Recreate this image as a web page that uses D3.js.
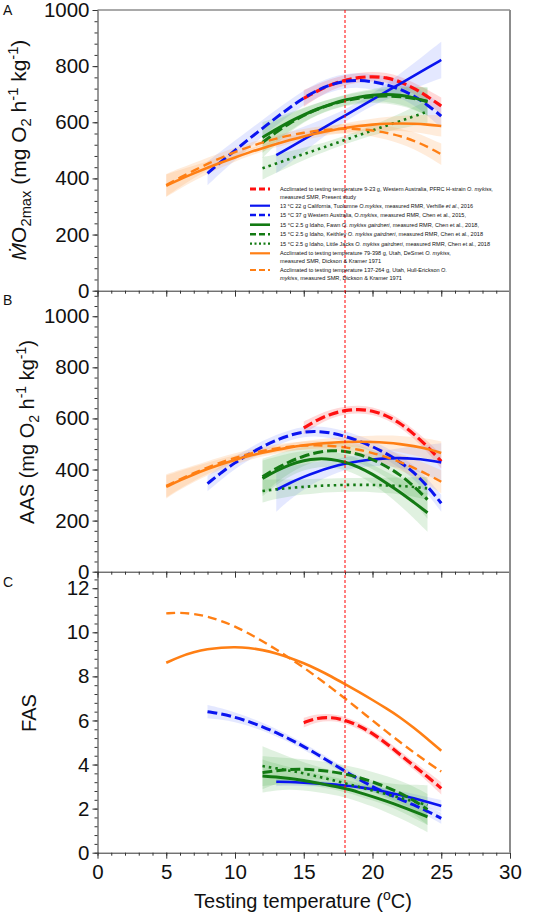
<!DOCTYPE html>
<html><head><meta charset="utf-8">
<script src="https://cdn.jsdelivr.net/npm/d3@7"></script>
<style>
body{margin:0;background:#fff}
svg{display:block}
text{font-family:"Liberation Sans",Arial,Helvetica,sans-serif;fill:#111}
</style>
</head><body>
<svg id="chart" width="534" height="916"></svg>
<script>
// ---------------- DATA ----------------
const tPresent  = [15,16,17,18,19,20,21,22,23,24,25];
const tVerhille = [13,14,15,16,17,18,19,20,21,22,23,24,25];
const tChen2015 = [8,9,10,11,12,13,14,15,16,17,18,19,20,21,22,23,24,25];
const tChen2018 = [12,13,14,15,16,17,18,19,20,21,22,23,24];
const tDickson  = [5,6,7,8,9,10,11,12,13,14,15,16,17,18,19,20,21,22,23,24,25];

// Panel A: MO2max (mg O2 h-1 kg-1), values and CI half-widths
const mmrPresent = [685,712,735,750,760,763,760,745,722,692,658];
const mmrPresentCI = [30,24,20,18,17,17,17,18,20,24,30];
const mmrVerhille = [483,511,539,568,596,624,652,681,709,737,765,794,822];
const mmrVerhilleCI = [65,55,45,36,28,22,20,22,28,36,45,55,65];
const mmrChen2015 = [418,460,500,540,578,617,653,687,715,735,747,750,745,735,718,695,662,622];
const mmrChen2015CI = [42,38,35,32,30,28,27,26,26,26,26,26,27,28,30,33,37,42];
const mmrFawn = [546,575,603,627,648,665,680,690,697,700,697,688,673];
const mmrFawnCI = [55,42,32,25,21,19,19,20,22,26,32,40,50];
const mmrKeithley = [528,565,598,625,647,664,677,686,692,694,692,685,675];
const mmrKeithleyCI = [55,42,32,25,21,19,19,20,22,26,32,40,50];
const mmrLittleJacks = [436,453,470,487,503,520,537,554,571,588,604,621,638];
const mmrLittleJacksCI = [40,33,27,22,18,16,15,16,18,22,27,33,40];
const mmrDeSmet = [374,397,418,438,457,475,492,508,523,537,550,561,571,580,587,592,595,596,595,592,587];
const mmrDeSmetCI = [40,33,27,22,18,15,13,12,12,12,13,14,15,17,19,21,24,27,30,34,38];
const mmrHull = [376,403,428,452,474,494,512,528,542,554,563,570,575,577,576,571,563,551,535,513,486];
const mmrHullCI = [40,33,27,22,18,15,13,12,12,12,13,14,15,17,19,21,24,27,30,34,38];

// Panel B: AAS
const aasPresent = [563,595,618,632,636,630,612,582,540,490,432];
const aasPresentCI = [25,20,17,15,15,15,15,16,18,22,28];
const aasVerhille = [320,348,372,392,409,423,433,440,444,445,443,437,428];
const aasVerhilleCI = [85,65,50,38,30,25,24,26,30,38,48,60,75];
const aasChen2015 = [345,388,427,460,490,515,535,548,550,544,530,512,490,463,430,390,335,268];
const aasChen2015CI = [30,27,25,23,22,21,20,20,20,20,20,21,22,23,25,27,30,33];
const aasFawn = [365,395,420,436,443,441,430,410,382,348,312,272,231];
const aasFawnCI = [70,55,45,38,33,31,31,33,37,43,52,62,75];
const aasKeithley = [372,405,432,453,468,475,472,460,440,413,380,335,282];
const aasKeithleyCI = [70,55,45,38,33,31,31,33,37,43,52,62,75];
const aasLittleJacks = [316,323,328,332,336,338,340,340,340,338,336,332,326];
const aasLittleJacksCI = [45,38,33,30,28,27,27,27,28,30,33,38,45];
const aasDeSmet = [332,358,381,402,421,438,453,466,477,487,495,501,505,508,509,508,505,500,492,481,465];
const aasDeSmetCI = [45,37,30,25,21,18,16,15,15,15,16,17,18,20,22,25,28,32,36,40,45];
const aasHull = [336,362,386,408,428,446,461,473,483,490,494,495,493,487,478,465,449,430,407,381,352];
const aasHullCI = [45,37,30,25,21,18,16,15,15,15,16,17,18,20,22,25,28,32,36,40,45];

// Panel C: FAS
const fasPresent = [5.9,6.12,6.15,6.02,5.77,5.42,4.97,4.45,3.95,3.45,2.92];
const fasPresentCI = [0.22,0.18,0.16,0.15,0.15,0.15,0.16,0.17,0.19,0.22,0.28];
const fasVerhille = [3.22,3.21,3.18,3.15,3.1,3.05,2.98,2.88,2.76,2.62,2.47,2.3,2.12];
const fasVerhilleCI = [0.2,0.17,0.15,0.13,0.12,0.12,0.12,0.13,0.15,0.17,0.2,0.23,0.27];
const fasChen2015 = [6.4,6.3,6.15,5.95,5.72,5.45,5.15,4.82,4.46,4.08,3.7,3.33,3.0,2.7,2.43,2.17,1.88,1.56];
const fasChen2015CI = [0.3,0.26,0.22,0.2,0.18,0.17,0.16,0.15,0.15,0.15,0.15,0.15,0.16,0.17,0.18,0.2,0.22,0.25];
const fasFawn = [3.48,3.44,3.37,3.28,3.16,3.04,2.92,2.74,2.55,2.34,2.12,1.88,1.63];
const fasFawnCI = [0.75,0.6,0.5,0.45,0.42,0.4,0.4,0.42,0.45,0.5,0.55,0.62,0.7];
const fasKeithley = [3.63,3.73,3.78,3.79,3.75,3.68,3.57,3.42,3.22,2.98,2.72,2.38,1.96];
const fasKeithleyCI = [0.75,0.6,0.5,0.45,0.42,0.4,0.4,0.42,0.45,0.5,0.55,0.62,0.7];
const fasLittleJacks = [3.93,3.83,3.72,3.6,3.46,3.31,3.15,2.99,2.82,2.66,2.49,2.33,2.16];
const fasLittleJacksCI = [0.9,0.75,0.6,0.5,0.45,0.42,0.4,0.42,0.45,0.5,0.6,0.75,0.9];
const fasDeSmet = [8.62,8.9,9.1,9.24,9.31,9.33,9.3,9.2,9.05,8.84,8.6,8.32,8.0,7.65,7.3,6.93,6.55,6.15,5.67,5.16,4.63];
const fasHull = [10.86,10.9,10.84,10.72,10.52,10.27,9.95,9.6,9.22,8.82,8.4,7.95,7.48,7.0,6.5,6.0,5.5,5.02,4.55,4.1,3.68];

const xTicks = [0,5,10,15,20,25,30];
const yTicksA = [0,200,400,600,800,1000];
const yTicksB = [0,200,400,600,800,1000];
const yTicksC = [0,2,4,6,8,10,12];
const refTemp = 18;

// legend entries (text pieces: [text, italic])
const legendEntries = [
  [[["Acclimated to testing temperature 9-23 g, Western Australia, PFRC H-strain ",0],["O. mykiss,",1]],[["measured SMR, Present study",0]]],
  [[["13 °C 22 g California, Tuolumne ",0],["O.mykiss",1],[", measured RMR, Verhille ",0],["et al",1],["., 2016",0]]],
  [[["15 °C 37 g Western Australia, ",0],["O.mykiss",1],[", measured RMR, Chen et al., 2015,",0]]],
  [[["15 °C 2.5 g Idaho, Fawn ",0],["O. mykiss gairdneri",1],[", measured RMR, Chen et al., 2018,",0]]],
  [[["15 °C 2.5 g Idaho, Keithley ",0],["O. mykiss gairdneri",1],[", measured RMR, Chen et al., 2018",0]]],
  [[["15 °C 2.5 g Idaho, Little Jacks ",0],["O. mykiss gairdneri",1],[", measured RMR, Chen et al., 2018",0]]],
  [[[" Acclimated to testing temperature 79-398 g, Utah, DeSmet ",0],["O. mykiss,",1]],[["measured SMR, Dickson & Kramer 1971",0]]],
  [[["Acclimated to testing temperature 137-264 g, Utah, Hull-Erickson ",0],["O.",1]],[["mykiss",1],[", measured SMR, Dickson & Kramer 1971",0]]]
];

// ---------------- STYLES / LAYOUT ----------------
const RED="#ff1010", BLUE="#0a14f0", GREEN="#137a13", ORANGE="#ff7f14";
const BAND = {red:"rgba(255,80,80,0.22)", blue:"rgba(90,110,255,0.16)", green:"rgba(60,170,60,0.16)", orange:"rgba(255,170,90,0.22)"};

const series = [
  {t:tPresent,  v:[mmrPresent,aasPresent,fasPresent], ci:[mmrPresentCI,aasPresentCI,fasPresentCI], color:RED, band:BAND.red, dash:"10,4", w:3.2},
  {t:tVerhille, v:[mmrVerhille,aasVerhille,fasVerhille], ci:[mmrVerhilleCI,aasVerhilleCI,fasVerhilleCI], color:BLUE, band:BAND.blue, dash:null, w:2.6},
  {t:tChen2015, v:[mmrChen2015,aasChen2015,fasChen2015], ci:[mmrChen2015CI,aasChen2015CI,fasChen2015CI], color:BLUE, band:BAND.blue, dash:"10,4", w:3},
  {t:tChen2018, v:[mmrFawn,aasFawn,fasFawn], ci:[mmrFawnCI,aasFawnCI,fasFawnCI], color:GREEN, band:BAND.green, dash:null, w:3},
  {t:tChen2018, v:[mmrKeithley,aasKeithley,fasKeithley], ci:[mmrKeithleyCI,aasKeithleyCI,fasKeithleyCI], color:GREEN, band:BAND.green, dash:"10,4", w:3},
  {t:tChen2018, v:[mmrLittleJacks,aasLittleJacks,fasLittleJacks], ci:[mmrLittleJacksCI,aasLittleJacksCI,fasLittleJacksCI], color:GREEN, band:BAND.green, dash:"2.5,4", w:2.6},
  {t:tDickson,  v:[mmrDeSmet,aasDeSmet,fasDeSmet], ci:[mmrDeSmetCI,aasDeSmetCI,null], color:ORANGE, band:BAND.orange, dash:null, w:2.6},
  {t:tDickson,  v:[mmrHull,aasHull,fasHull], ci:[mmrHullCI,aasHullCI,null], color:ORANGE, band:BAND.orange, dash:"9,5", w:2.4}
];

const svg = d3.select("#chart");
const XL = 97.5, XR = 510;
const x = d3.scaleLinear().domain([0,30]).range([XL, XR]);

const panels = [
  {y:d3.scaleLinear().domain([0,1000]).range([290.7,10]), ticks:yTicksA, minor:d3.range(0,1001,40), letter:"A", letterY:15},
  {y:d3.scaleLinear().domain([0,1100]).range([571.7,290.7]), ticks:yTicksB, minor:d3.range(0,1081,40), letter:"B", letterY:305},
  {y:d3.scaleLinear().domain([0,12.75]).range([852.7,571.7]), ticks:yTicksC, minor:d3.range(0,12.7,0.4), letter:"C", letterY:587}
];

// bands
panels.forEach((p,pi)=>{
  const g = svg.append("g");
  series.forEach(s=>{
    const ci = s.ci[pi]; if(!ci) return;
    const pts = s.t.map((t,i)=>({t, lo:s.v[pi][i]-ci[i], hi:s.v[pi][i]+ci[i]}));
    g.append("path").datum(pts)
      .attr("d", d3.area().x(d=>x(d.t)).y0(d=>p.y(d.lo)).y1(d=>p.y(d.hi)).curve(d3.curveBasis))
      .attr("fill", s.band).attr("stroke","none");
  });
});

// lines
panels.forEach((p,pi)=>{
  const g = svg.append("g");
  series.forEach(s=>{
    const pts = s.t.map((t,i)=>({t, v:s.v[pi][i]}));
    g.append("path").datum(pts)
      .attr("d", d3.line().x(d=>x(d.t)).y(d=>p.y(d.v)).curve(d3.curveBasis))
      .attr("fill","none").attr("stroke", s.color).attr("stroke-width", s.w)
      .attr("stroke-dasharray", s.dash);
  });
});

// axes
const AX = "#333";
panels.forEach((p,pi)=>{
  const yr = p.y.range();
  // minor y
  svg.append("g").attr("transform",`translate(${XL},0)`)
    .call(d3.axisLeft(p.y).tickValues(p.minor).tickSize(3).tickFormat("").tickSizeOuter(0))
    .call(g=>{g.select(".domain").attr("stroke",AX); g.selectAll("line").attr("stroke",AX);});
  // major y
  svg.append("g").attr("transform",`translate(${XL},0)`)
    .call(d3.axisLeft(p.y).tickValues(p.ticks).tickSize(5).tickPadding(3).tickSizeOuter(0).tickFormat(d3.format("d")))
    .call(g=>{g.select(".domain").remove(); g.selectAll("line").attr("stroke",AX);
      g.selectAll("text").attr("font-size",20.5).attr("fill","#111").attr("font-family",'"Liberation Sans",Arial,sans-serif');});
  // x axis minor
  svg.append("g").attr("transform",`translate(0,${yr[0]})`)
    .call(d3.axisBottom(x).tickValues(d3.range(0,31,1)).tickSize(3).tickFormat("").tickSizeOuter(0))
    .call(g=>{g.select(".domain").attr("stroke",AX); g.selectAll("line").attr("stroke",AX);});
  const xa = svg.append("g").attr("transform",`translate(0,${yr[0]})`)
    .call(d3.axisBottom(x).tickValues(xTicks).tickSize(6).tickPadding(6).tickSizeOuter(0))
    .call(g=>{g.select(".domain").remove(); g.selectAll("line").attr("stroke",AX);
      g.selectAll("text").attr("font-size",20.5).attr("fill","#111").attr("font-family",'"Liberation Sans",Arial,sans-serif');});
  if(pi<2) xa.selectAll("text").remove();
  svg.append("text").attr("x",3).attr("y",p.letterY).attr("font-size",14).text(p.letter);
});
// frame
svg.append("line").attr("x1",XL).attr("x2",XR).attr("y1",10).attr("y2",10).attr("stroke","#555").attr("stroke-width",1);
svg.append("line").attr("x1",XR).attr("x2",XR).attr("y1",10).attr("y2",852.7).attr("stroke","#8c8c8c").attr("stroke-width",2);

// reference line
svg.append("line").attr("x1",x(refTemp)).attr("x2",x(refTemp)).attr("y1",10).attr("y2",852.7)
  .attr("stroke","#ff0000").attr("stroke-width",1).attr("stroke-dasharray","3,2");

// axis titles
function addTitle(cx, cy, parts, size){
  const t = svg.append("text").attr("transform",`translate(${cx},${cy}) rotate(-90)`)
    .attr("text-anchor","middle").attr("font-size",size);
  parts.forEach(([txt,kind,ital])=>{
    const ts = t.append("tspan").text(txt);
    if(ital) ts.attr("font-style","italic");
    if(kind==="sub"){ ts.attr("font-size",size*0.7).attr("dy",size*0.25); }
    else if(kind==="sup"){ ts.attr("font-size",size*0.7).attr("dy",-size*0.4); }
    else if(kind==="n-from-sub"){ ts.attr("dy",-size*0.25); }
    else if(kind==="n-from-sup"){ ts.attr("dy",size*0.4); }
  });
}
addTitle(26,150,[["Ṁ","n",1],["O","n"],["2max","sub"],[" (mg O","n-from-sub"],["2","sub"],[" h","n-from-sub"],["-1","sup"],[" kg","n-from-sup"],["-1","sup"],[")","n-from-sup"]],21);
addTitle(34,432,[["AAS (mg O","n"],["2","sub"],[" h","n-from-sub"],["-1","sup"],[" kg","n-from-sup"],["-1","sup"],[")","n-from-sup"]],20);
addTitle(36,713,[["FAS","n"]],20);

const xt = svg.append("text").attr("x",303).attr("y",908).attr("text-anchor","middle").attr("font-size",20);
xt.append("tspan").text("Testing temperature (");
xt.append("tspan").text("o").attr("font-size",14).attr("dy",-8);
xt.append("tspan").text("C)").attr("dy",8);

// legend
const legRows = [[189,197],[205.7],[215],[224.7],[234.3],[243.7],[253.3,261],[270,278]];
const legWidths = [[213,76],[193],[186],[199],[203],[210],[171,101],[167,122]];
const lg = svg.append("g");
legendEntries.forEach((entry,i)=>{
  const s = series[i];
  const ly = legRows[i][0];
  lg.append("line").attr("x1",250).attr("x2",270).attr("y1",ly).attr("y2",ly)
    .attr("stroke",s.color).attr("stroke-width",s.w-0.4).attr("stroke-dasharray",s.dash ? (s.dash==="2.5,4"?"2,2.5":"6,3") : null);
  entry.forEach((line,j)=>{
    const t = lg.append("text").attr("x",280).attr("y",legRows[i][j]+1.8).attr("font-size",5.2)
      .attr("textLength",legWidths[i][j]).attr("lengthAdjust","spacingAndGlyphs").attr("fill","#222");
    line.forEach(([txt,it])=>{ const ts=t.append("tspan").text(txt); if(it) ts.attr("font-style","italic"); });
  });
});
</script>
</body></html>
